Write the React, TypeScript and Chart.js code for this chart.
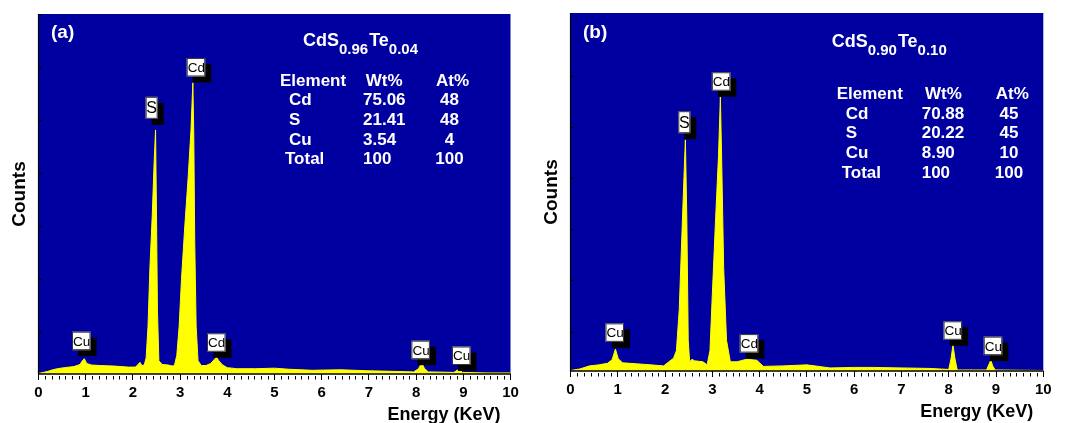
import React, { useEffect, useRef } from 'react';
import { Chart, registerables } from 'chart.js';

Chart.register(...registerables);

const FONT = "'Liberation Sans', Arial, Helvetica, sans-serif";
const BLUE = '#0000A0';
const YELLOW = '#FFFF00';

// ---------- Panel (a): CdS0.96Te0.04 ----------
const energyA = [0, 0.1, 0.2, 0.3, 0.4, 0.55, 0.75, 0.88, 0.93, 0.97, 1.02, 1.12, 1.3, 1.6, 1.9, 2.05, 2.1, 2.15, 2.19, 2.24, 2.28, 2.32, 2.36, 2.41, 2.45, 2.48, 2.5, 2.52, 2.55, 2.62, 2.75, 2.83, 2.88, 2.93, 2.98, 3.03, 3.1, 3.17, 3.23, 3.27, 3.29, 3.31, 3.34, 3.38, 3.45, 3.55, 3.65, 3.72, 3.77, 3.82, 3.9, 4.0, 4.2, 4.6, 5.0, 5.3, 5.8, 6.4, 7.0, 7.5, 7.95, 8.05, 8.12, 8.18, 8.26, 8.8, 8.87, 8.92, 8.98, 9.5, 10];
const countsA = [1, 3, 5, 8, 10, 12, 14, 18, 25, 29, 20, 17, 16, 15, 13, 13, 17, 22, 16, 17, 30, 90, 200, 300, 400, 461, 300, 120, 25, 18, 17, 15, 16, 35, 90, 180, 280, 370, 460, 550, 450, 250, 90, 25, 16, 16, 20, 27, 32, 25, 17, 12, 10, 10, 11, 9, 7, 8, 6, 5, 4, 10, 21, 10, 4, 3, 7, 9, 3, 2, 2];

// ---------- Panel (b): CdS0.90Te0.10 ----------
const energyB = [0, 0.2, 0.4, 0.6, 0.78, 0.88, 0.95, 1.01, 1.1, 1.4, 1.7, 1.97, 2.08, 2.18, 2.24, 2.3, 2.35, 2.4, 2.43, 2.46, 2.49, 2.52, 2.57, 2.62, 2.8, 2.89, 2.95, 3.0, 3.07, 3.13, 3.17, 3.2, 3.24, 3.3, 3.38, 3.52, 3.6, 3.73, 3.94, 4.08, 4.5, 5.0, 5.49, 6.0, 6.4, 7.0, 7.6, 8.0, 8.05, 8.09, 8.13, 8.18, 8.8, 8.86, 8.89, 8.93, 8.98, 10];
const countsB = [1, 4, 10, 12, 15, 22, 43, 24, 16, 14, 12, 10, 18, 25, 40, 120, 250, 380, 452, 300, 60, 18, 23, 20, 18, 12, 40, 150, 300, 420, 536, 400, 200, 60, 18, 18, 20, 23, 21, 9, 10, 12, 6, 7, 7, 6, 5, 3, 25, 51, 25, 2, 2, 15, 21, 10, 2, 1];

// Axis tick values
const yTicksA = [80, 180, 280, 380, 480, 580, 680];
const yTicksB = [77, 177, 277, 377, 477, 577];
const minorPerUnit = 7;

// Peak labels (text, energy of box left edge, counts at box bottom)
const peakTextA = ['Cu', 'S', 'Cd', 'Cd', 'Cu', 'Cu'];
const peakEnergyA = [0.71, 2.27, 3.14, 3.57, 7.9, 8.76];
const peakCountsA = [45, 482, 562, 42, 28, 17];
const peakTextB = ['Cu', 'S', 'Cd', 'Cd', 'Cu', 'Cu'];
const peakEnergyB = [0.74, 2.28, 2.99, 3.58, 7.89, 8.74];
const peakCountsB = [57, 465, 548, 36, 61, 31];

// Composition tables
const tableHeader = ['Element', 'Wt%', 'At%'];
const tableElements = ['Cd', 'S', 'Cu', 'Total'];
const wtA = ['75.06', '21.41', '3.54', '100'];
const atA = ['48', '48', '4', '100'];
const wtB = ['70.88', '20.22', '8.90', '100'];
const atB = ['45', '45', '10', '100'];
const formulaA = ['CdS', '0.96', 'Te', '0.04'];
const formulaB = ['CdS', '0.90', 'Te', '0.10'];

type PanelCfg = {
  letter: string;
  energy: number[];
  counts: number[];
  yMax: number;
  yTicks: number[];
  peakText: string[];
  peakEnergy: number[];
  peakCounts: number[];
  formula: string[];
  wt: string[];
  at: string[];
  left: number;
  top: number;
  w: number;
  h: number;
  padTop: number;
  padRight: number;
  padBottom: number;
  letterPos: [number, number];
  formulaPos: [number, number];
  tableX: [number, number, number, number]; // element header, wt col, wt header, at header
  atCenter: number;
  tableY: number;
};

const panels: PanelCfg[] = [
  {
    letter: '(a)', energy: energyA, counts: countsA, yMax: 680, yTicks: yTicksA,
    peakText: peakTextA, peakEnergy: peakEnergyA, peakCounts: peakCountsA,
    formula: formulaA, wt: wtA, at: atA,
    left: 0, top: 0, w: 532, h: 423, padTop: 14, padRight: 21.5, padBottom: 17,
    letterPos: [51, 33], formulaPos: [303, 45.5],
    tableX: [280, 363, 365.7, 436], atCenter: 449.5, tableY: 81,
  },
  {
    letter: '(b)', energy: energyB, counts: countsB, yMax: 700, yTicks: yTicksB,
    peakText: peakTextB, peakEnergy: peakEnergyB, peakCounts: peakCountsB,
    formula: formulaB, wt: wtB, at: atB,
    left: 532, top: -3, w: 533, h: 426, padTop: 16, padRight: 21.7, padBottom: 20,
    letterPos: [51, 36], formulaPos: [299.7, 49.5],
    tableX: [304.7, 389.7, 393, 463.7], atCenter: 477, tableY: 97.3,
  },
];

function makeDecor(cfg: PanelCfg) {
  return {
    id: 'edsDecor',
    beforeDraw(chart: any) {
      const { ctx, chartArea: a } = chart;
      ctx.save();
      ctx.fillStyle = BLUE;
      ctx.fillRect(a.left, a.top, a.right - a.left, a.bottom - a.top);
      ctx.restore();
    },
    afterDraw(chart: any) {
      const { ctx, chartArea: a } = chart;
      const xs = chart.scales.x;
      const ys = chart.scales.y;
      ctx.save();
      // axis lines
      ctx.strokeStyle = '#000';
      ctx.lineWidth = 1.5;
      ctx.beginPath();
      ctx.moveTo(a.left, a.bottom);
      ctx.lineTo(a.right, a.bottom);
      ctx.stroke();
      ctx.lineWidth = 1.2;
      ctx.beginPath();
      ctx.moveTo(a.left, a.top);
      ctx.lineTo(a.left, a.bottom + 0.75);
      ctx.stroke();
      // minor x ticks
      ctx.lineWidth = 1;
      for (let i = 0; i <= 10 * minorPerUnit; i++) {
        if (i % minorPerUnit === 0) continue;
        const px = Math.round(xs.getPixelForValue(i / minorPerUnit)) + 0.5;
        ctx.beginPath();
        ctx.moveTo(px, a.bottom + 2);
        ctx.lineTo(px, a.bottom + 5.5);
        ctx.stroke();
      }
      // y inner ticks
      cfg.yTicks.forEach((v) => {
        const py = Math.round(ys.getPixelForValue(v)) + 0.5;
        ctx.beginPath();
        ctx.moveTo(a.left, py);
        ctx.lineTo(a.left + 3, py);
        ctx.stroke();
      });
      // peak labels
      cfg.peakText.forEach((t, i) => {
        const x = xs.getPixelForValue(cfg.peakEnergy[i]);
        const yb = ys.getPixelForValue(cfg.peakCounts[i]);
        const narrow = t.length === 1;
        const w = narrow ? 12 : 18.5;
        const h = narrow ? 22 : 18.5;
        const top = yb - h;
        ctx.fillStyle = '#000';
        ctx.fillRect(x + 6, top + 6, w, h);
        ctx.fillStyle = '#fff';
        ctx.fillRect(x, top, w, h);
        ctx.strokeStyle = '#333';
        ctx.lineWidth = 1;
        ctx.strokeRect(x + 0.5, top + 0.5, w - 1, h - 1);
        ctx.save();
        ctx.beginPath();
        ctx.rect(x + 1, top + 1, w - 2, h - 2);
        ctx.clip();
        ctx.fillStyle = '#000';
        ctx.textBaseline = 'middle';
        if (narrow) {
          ctx.font = `16px ${FONT}`;
          ctx.textAlign = 'center';
          ctx.fillText(t, x + w / 2, top + h / 2 + 1);
        } else {
          ctx.font = `13.5px ${FONT}`;
          ctx.textAlign = 'left';
          ctx.fillText(t, x + 1, top + h / 2 + 1);
        }
        ctx.restore();
      });
      // panel letter
      ctx.fillStyle = '#fff';
      ctx.textBaseline = 'middle';
      ctx.textAlign = 'left';
      ctx.font = `bold 19px ${FONT}`;
      ctx.fillText(cfg.letter, cfg.letterPos[0], cfg.letterPos[1]);
      // formula with subscripts
      ctx.textBaseline = 'alphabetic';
      let fx = cfg.formulaPos[0];
      cfg.formula.forEach((part, i) => {
        const sub = i % 2 === 1;
        ctx.font = sub ? `bold 15px ${FONT}` : `bold 18px ${FONT}`;
        ctx.fillText(part, fx, cfg.formulaPos[1] + (sub ? 8 : 0));
        fx += ctx.measureText(part).width + (sub ? 1 : 0);
      });
      // table
      ctx.font = `bold 17px ${FONT}`;
      ctx.textBaseline = 'middle';
      const [ex, wx, whx, ahx] = cfg.tableX;
      const rowStep = 19.7;
      ctx.textAlign = 'left';
      ctx.fillText(tableHeader[0], ex, cfg.tableY);
      ctx.fillText(tableHeader[1], whx, cfg.tableY);
      ctx.fillText(tableHeader[2], ahx, cfg.tableY);
      tableElements.forEach((el, r) => {
        const y = cfg.tableY + rowStep * (r + 1);
        ctx.textAlign = 'left';
        ctx.fillText(el, ex + (el === 'Total' ? 5 : 9), y);
        ctx.fillText(cfg.wt[r], wx, y);
        ctx.textAlign = 'center';
        ctx.fillText(cfg.at[r], cfg.atCenter, y);
      });
      // x-axis title
      ctx.fillStyle = '#000';
      ctx.textAlign = 'right';
      ctx.textBaseline = 'alphabetic';
      ctx.font = `bold 18px ${FONT}`;
      ctx.fillText('Energy (KeV)', a.right - 10, a.bottom + 46);
      ctx.restore();
    },
  };
}

function Panel({ cfg }: { cfg: PanelCfg }) {
  const ref = useRef<HTMLCanvasElement>(null);
  useEffect(() => {
    const chart = new Chart(ref.current as HTMLCanvasElement, {
      type: 'line',
      data: {
        datasets: [
          {
            data: cfg.energy.map((e, i) => ({ x: e, y: cfg.counts[i] })),
            borderColor: YELLOW,
            backgroundColor: YELLOW,
            borderWidth: 1,
            pointRadius: 0,
            fill: 'origin',
            tension: 0,
          },
        ],
      },
      options: {
        animation: false,
        responsive: false,
        maintainAspectRatio: false,
        events: [],
        layout: { padding: { left: 8.6, right: cfg.padRight, top: cfg.padTop, bottom: cfg.padBottom } },
        plugins: { legend: { display: false }, tooltip: { enabled: false } },
        scales: {
          x: {
            type: 'linear',
            min: 0,
            max: 10,
            ticks: {
              stepSize: 1,
              autoSkip: false,
              maxRotation: 0,
              padding: 4,
              color: '#000',
              font: { family: FONT, size: 15, weight: 'bold' },
            },
            grid: { display: true, drawOnChartArea: false, drawTicks: true, tickLength: 6, color: '#000', lineWidth: 1 },
            border: { display: false },
          },
          y: {
            type: 'linear',
            min: 0,
            max: cfg.yMax,
            ticks: { display: false },
            grid: { display: false, drawTicks: false, tickLength: 0 },
            border: { display: false },
            title: {
              display: true,
              text: 'Counts',
              color: '#000',
              font: { family: FONT, size: 19, weight: 'bold' },
              padding: { top: 0, bottom: 7.1 },
            },
          },
        },
      },
      plugins: [makeDecor(cfg)],
    } as any);
    return () => chart.destroy();
  }, [cfg]);
  return (
    <canvas
      ref={ref}
      width={cfg.w}
      height={cfg.h}
      style={{ position: 'absolute', left: cfg.left, top: cfg.top, width: cfg.w, height: cfg.h }}
    />
  );
}

export default function App() {
  return (
    <div
      style={{
        position: 'fixed',
        left: 0,
        top: 0,
        width: 1065,
        height: 423,
        overflow: 'hidden',
        background: '#fff',
      }}
    >
      {panels.map((p) => (
        <Panel key={p.letter} cfg={p} />
      ))}
    </div>
  );
}
